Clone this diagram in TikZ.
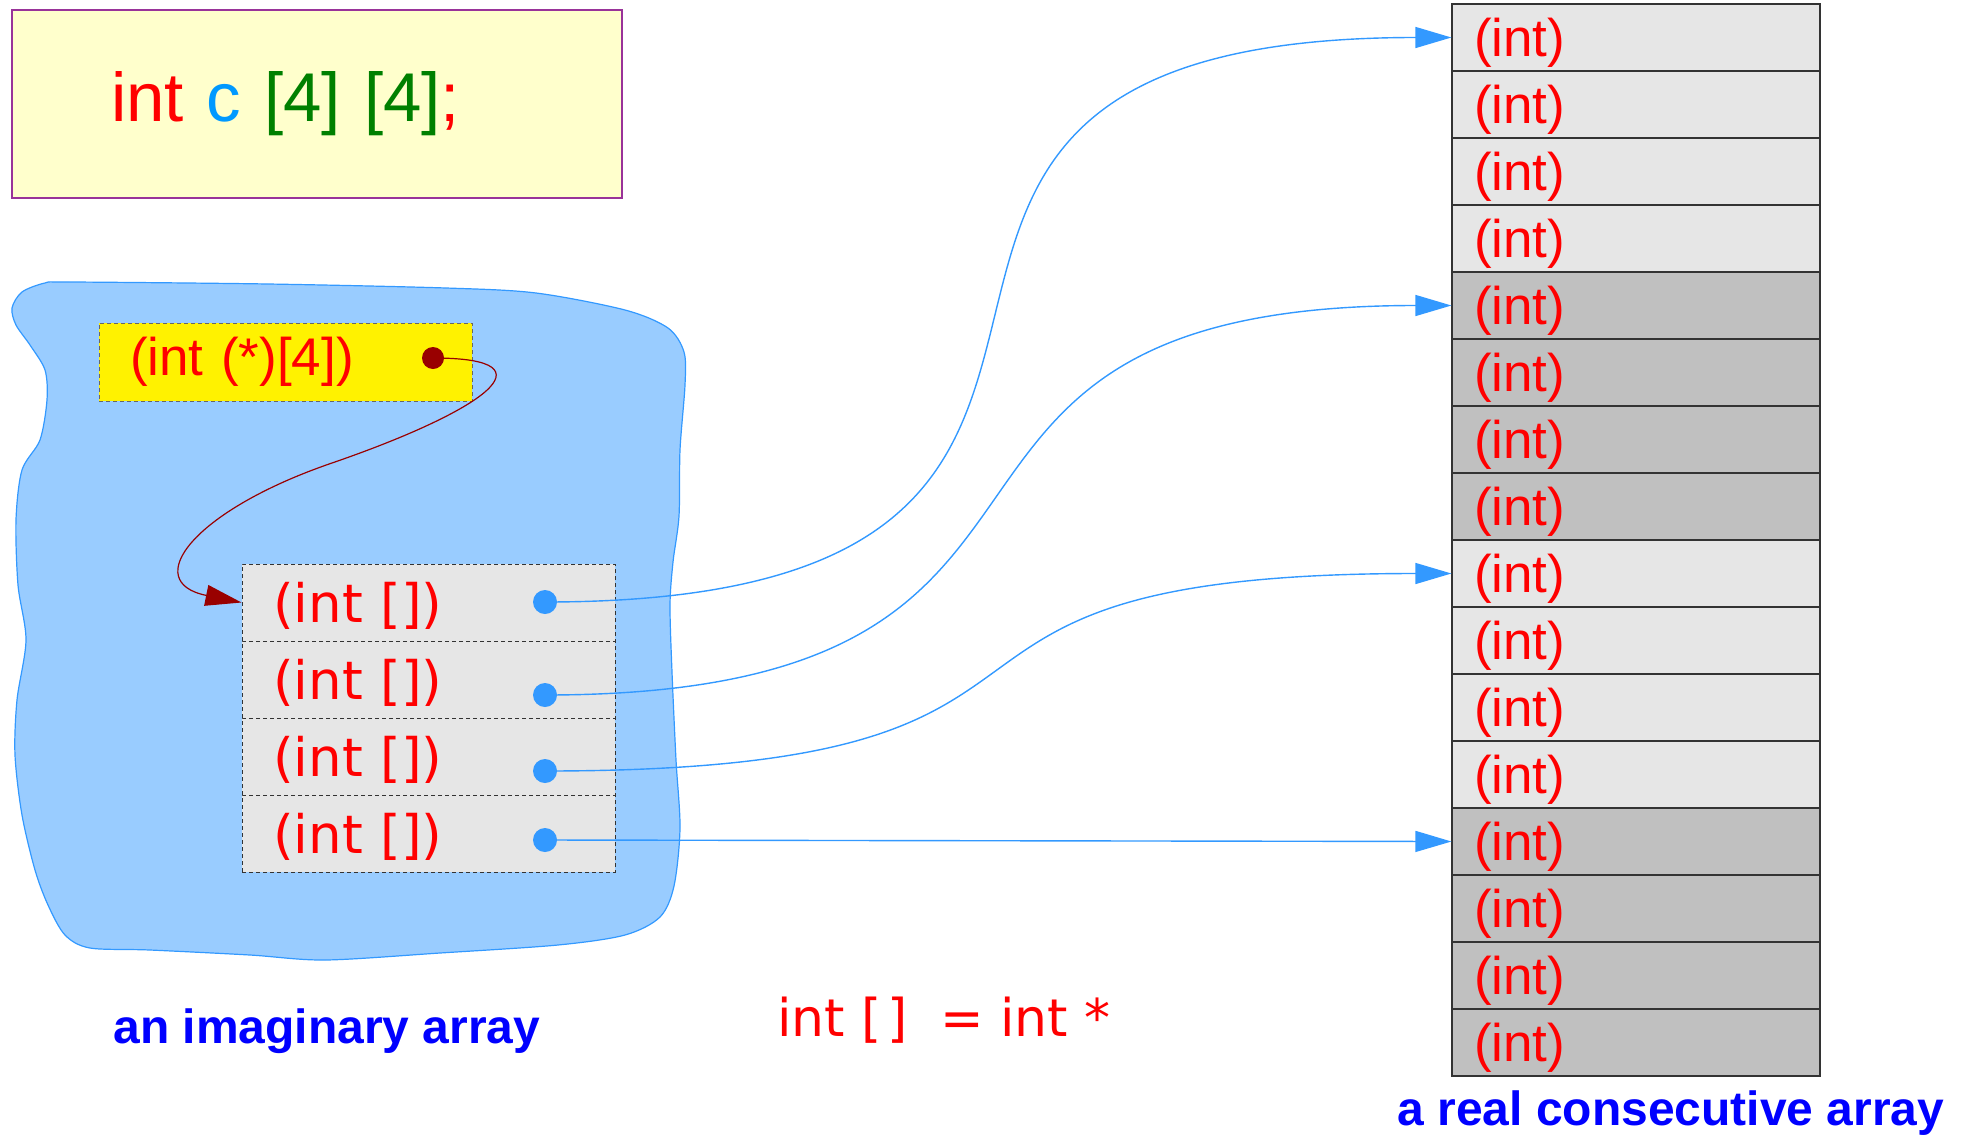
\documentclass[tikz,border=0pt]{standalone}
\usepackage{fontspec}
\setmainfont{Liberation Sans}
\newfontfamily\dejavu{DejaVu Sans}
\usepackage{tikz}
\usetikzlibrary{arrows.meta,positioning}

\definecolor{codebg}{HTML}{FFFFCC}
\definecolor{codeframe}{HTML}{993399}
\definecolor{cblue}{HTML}{0099FF}
\definecolor{cgreen}{HTML}{008000}
\definecolor{blobfill}{HTML}{99CCFF}
\definecolor{blobline}{HTML}{3399FF}
\definecolor{ptrred}{HTML}{990000}
\definecolor{lightcell}{HTML}{E6E6E6}
\definecolor{darkcell}{HTML}{C0C0C0}

\begin{document}
\begin{tikzpicture}[%
        x=0.5pt, y=-0.5pt,
        >={Triangle[length=18pt,width=10.5pt]},
        node distance=33.5pt,
        on grid,
        cellbox/.style={draw=black!80, line width=0.6pt, fill=lightcell, text=red,
            font=\fontsize{26.5}{31}\selectfont, inner xsep=11pt, inner ysep=0pt,
            text width=162pt, align=left, text height=26pt, text depth=7.5pt},
        darkbox/.style={cellbox, fill=darkcell},
        rowbox/.style={draw=black!80, dash pattern=on 2pt off 1.5pt, line width=0.5pt,
            fill=lightcell, text=red, font=\dejavu\fontsize{26.5}{31}\selectfont,
            inner xsep=15.5pt, inner ysep=0pt, text width=155.5pt, align=left,
            text height=29pt, text depth=9.5pt},
        bluedot/.style={circle, fill=blobline, inner sep=0pt, minimum size=12pt},
        reddot/.style={circle, fill=ptrred, inner sep=0pt, minimum size=11pt},
        link/.style={->, blobline, line width=0.7pt},
        caption/.style={font=\bfseries\fontsize{24}{28}\selectfont, text=blue,
            inner sep=0pt, anchor=base west}
        ]

        \useasboundingbox (0,0) rectangle (1963,1135);

        % the imaginary array
        \filldraw[fill=blobfill, draw=blobline, line width=0.6pt]
            plot[smooth cycle] coordinates {(12,308) (22,292) (45,283) (70,282) (268,284)
            (446,288) (536,293) (625,310) (668,328) (684,352) (685,385) (680,450)
            (679,516) (673,562) (670,605) (672,672) (676,760) (680,828) (674,886)
            (660,917) (625,935) (558,945) (440,953) (325,960) (250,955) (150,950)
            (90,948) (65,935) (48,905) (35,870) (22,815) (15,755) (17,700) (26,640)
            (18,585) (16,520) (22,470) (40,440) (47,400) (45,370) (30,345) (16,325)};

        \node[draw=codeframe, line width=0.7pt, fill=codebg, font=\fontsize{34.5}{42}\selectfont,
            inner xsep=49.5pt, inner ysep=0pt, text width=206pt, align=left,
            text height=55.5pt, text depth=38.5pt] (decl) at (317,104)
            {\textcolor{red}{int} \textcolor{cblue}{c} \textcolor{cgreen}{[4] [4]}\textcolor{red}{;}};

        \node[fill=yellow, draw=black!60, dash pattern=on 2pt off 1.5pt, line width=0.5pt,
            text=red, font=\fontsize{26.5}{31}\selectfont, inner xsep=15.5pt, inner ysep=0pt,
            text width=155.5pt, align=left, text height=26pt, text depth=13pt]
            (ptr) at (285.5,362) {(int (*)[4])};

        \node[rowbox] (r1) at (428.5,602.5) {(int [])};
        \node[rowbox] (r2) [below=38.5pt of r1] {(int [])};
        \node[rowbox] (r3) [below=38.5pt of r2] {(int [])};
        \node[rowbox] (r4) [below=38.5pt of r3] {(int [])};

        % the real array
        \node[cellbox] (c1) at (1636,37.5) {(int)};
        \node[cellbox] (c2) [below=of c1] {(int)};
        \node[cellbox] (c3) [below=of c2] {(int)};
        \node[cellbox] (c4) [below=of c3] {(int)};
        \node[darkbox] (c5) [below=of c4] {(int)};
        \node[darkbox] (c6) [below=of c5] {(int)};
        \node[darkbox] (c7) [below=of c6] {(int)};
        \node[darkbox] (c8) [below=of c7] {(int)};
        \node[cellbox] (c9) [below=of c8] {(int)};
        \node[cellbox] (c10) [below=of c9] {(int)};
        \node[cellbox] (c11) [below=of c10] {(int)};
        \node[cellbox] (c12) [below=of c11] {(int)};
        \node[darkbox] (c13) [below=of c12] {(int)};
        \node[darkbox] (c14) [below=of c13] {(int)};
        \node[darkbox] (c15) [below=of c14] {(int)};
        \node[darkbox] (c16) [below=of c15] {(int)};

        \node[bluedot] (d1) at (545,602) {};
        \node[bluedot] (d2) at (545,695) {};
        \node[bluedot] (d3) at (545,771) {};
        \node[bluedot] (d4) at (545,840) {};

        \draw[link] (d1.center) to[out=0,in=180,looseness=1.8] (c1.west);
        \draw[link] (d2.center) to[out=0,in=180,looseness=1.6] (c5.west);
        \draw[link] (d3.center) to[out=0,in=180,looseness=1.7] (c9.west);
        \draw[link] (d4.center) -- (c13.west);

        \coordinate (bend) at (332,463);
        \draw[->, ptrred, line width=0.6pt] (433,358) .. controls (560,358) and (480,412) .. (bend)
            .. controls (192,511) and (140,582) .. (r1.west);
        \node[reddot] (pdot) at (433,358) {};

        \node[text=red, font=\dejavu\fontsize{26}{30}\selectfont, inner sep=0pt,
            anchor=base west] (eq) at (777,1036) {int [\kern2.5pt]\ \ = int *};

        \node[caption] (imag) at (113,1043) {an imaginary array};
        \node[caption] (real) at (1397,1125) {a real consecutive array};

        \end{tikzpicture}
\end{document}
